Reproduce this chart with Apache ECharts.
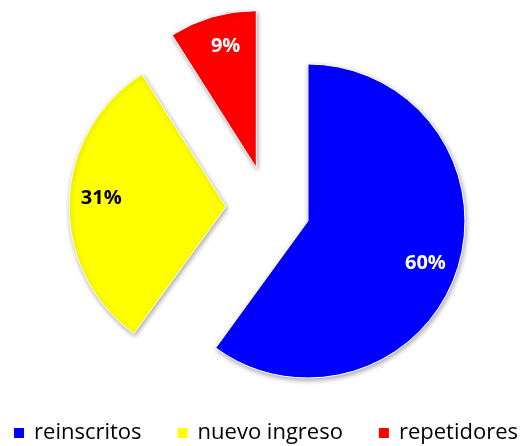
<!DOCTYPE html>
<html>
<head>
<meta charset="utf-8">
<script src="https://cdn.jsdelivr.net/npm/echarts@6/dist/echarts.min.js"></script>
<style>
  html, body { margin: 0; padding: 0; background: #fff; }
  #chart { width: 530px; height: 446px; }
</style>
</head>
<body>
<div id="chart"></div>
<script>
var categories = ["reinscritos", "nuevo ingreso", "repetidores"];
var percents = [60, 31, 9];
var colors = ["#0000ff", "#ffff00", "#ff0000"];
var labelColors = ["#ffffff", "#000000", "#ffffff"];

var chart = echarts.init(document.getElementById("chart"));

var center = [268, 208];
var offset = 42;

// the slices themselves
var sliceData = [];
// a transparent copy, only used to put the labels further out
var labelData = [];
for (var i = 0; i < categories.length; i++) {
    var st = {
        color: colors[i],
        borderColor: "#ffffff",
        borderWidth: 1,
        shadowBlur: 5,
        shadowColor: "rgba(0,0,0,0.35)",
        shadowOffsetX: 1,
        shadowOffsetY: 2
    };
    sliceData.push({
        name: categories[i],
        value: percents[i],
        selected: true,
        itemStyle: st,
        select: { itemStyle: st }
    });
    labelData.push({
        name: categories[i],
        value: percents[i],
        selected: true,
        label: { color: labelColors[i] }
    });
}

chart.setOption({
    animation: false,
    color: colors,
    legend: {
        data: categories,
        bottom: -3,
        left: "center",
        icon: "rect",
        itemWidth: 12,
        itemHeight: 12,
        itemGap: 34,
        selectedMode: false,
        textStyle: { fontFamily: "Open Sans", fontSize: 22, color: "#000", padding: [0, 0, 0, 4] }
    },
    series: [{
        type: "pie",
        center: center,
        radius: [0, 157],
        startAngle: 90,
        selectedMode: "multiple",
        selectedOffset: offset,
        silent: true,
        label: { show: false },
        labelLine: { show: false },
        emphasis: { disabled: true },
        data: sliceData
    }, {
        type: "pie",
        center: center,
        radius: [112, 132],
        startAngle: 88.5,
        selectedMode: "multiple",
        selectedOffset: offset,
        silent: true,
        itemStyle: { color: "rgba(0,0,0,0)" },
        select: { itemStyle: { color: "rgba(0,0,0,0)" } },
        emphasis: { disabled: true },
        labelLine: { show: false },
        label: {
            show: true,
            position: "inside",
            formatter: "{c}%",
            fontFamily: "Open Sans",
            fontWeight: "bold",
            fontSize: 20
        },
        data: labelData
    }]
});
</script>
</body>
</html>
